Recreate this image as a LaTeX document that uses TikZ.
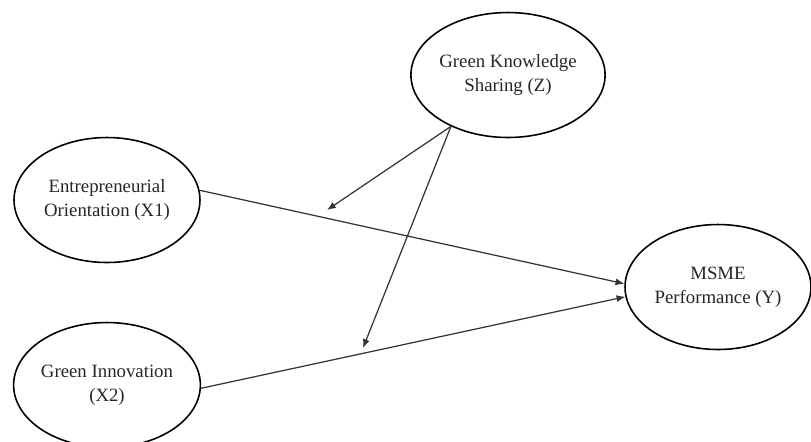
\documentclass[tikz,border=0pt]{standalone}
\usepackage{fontspec}
\setmainfont{Liberation Serif}
\usepackage{tikz}
\usetikzlibrary{positioning, arrows.meta, shapes.geometric}

\begin{document}
\begin{tikzpicture}[
    x=0.02cm, y=-0.02cm,
    construct/.style={ellipse, draw=black, line width=0.9pt, minimum width=3.72cm,
                      minimum height=2.5cm, align=center, inner sep=0pt,
                      font=\fontsize{10.7}{13.6}\selectfont, text=black!85},
    arrow/.style={-{Latex[length=5pt, width=4pt]}, line width=0.7pt, black!80},
  ]
    \useasboundingbox (0,0) rectangle (811,441);

    \node[construct] (Z) at (508,75) {Green Knowledge\\Sharing (Z)};
    \node[construct] (X1) at (107,200) {Entrepreneurial\\Orientation (X1)};
    \node[construct] (X2) at (107,385) {Green Innovation\\(X2)};
    \node[construct] (Y) at (718,287) {MSME\\Performance (Y)};

    \coordinate (M1) at (327,210);
    \coordinate (M2) at (363,348);

    \draw[arrow] (X1.6) -- (Y.178);
    \draw[arrow] (X2.-2) -- (Y.186);
    \draw[arrow] (Z.222) -- (M1);
    \draw[arrow] (Z.222) -- (M2);
  \end{tikzpicture}
\end{document}
